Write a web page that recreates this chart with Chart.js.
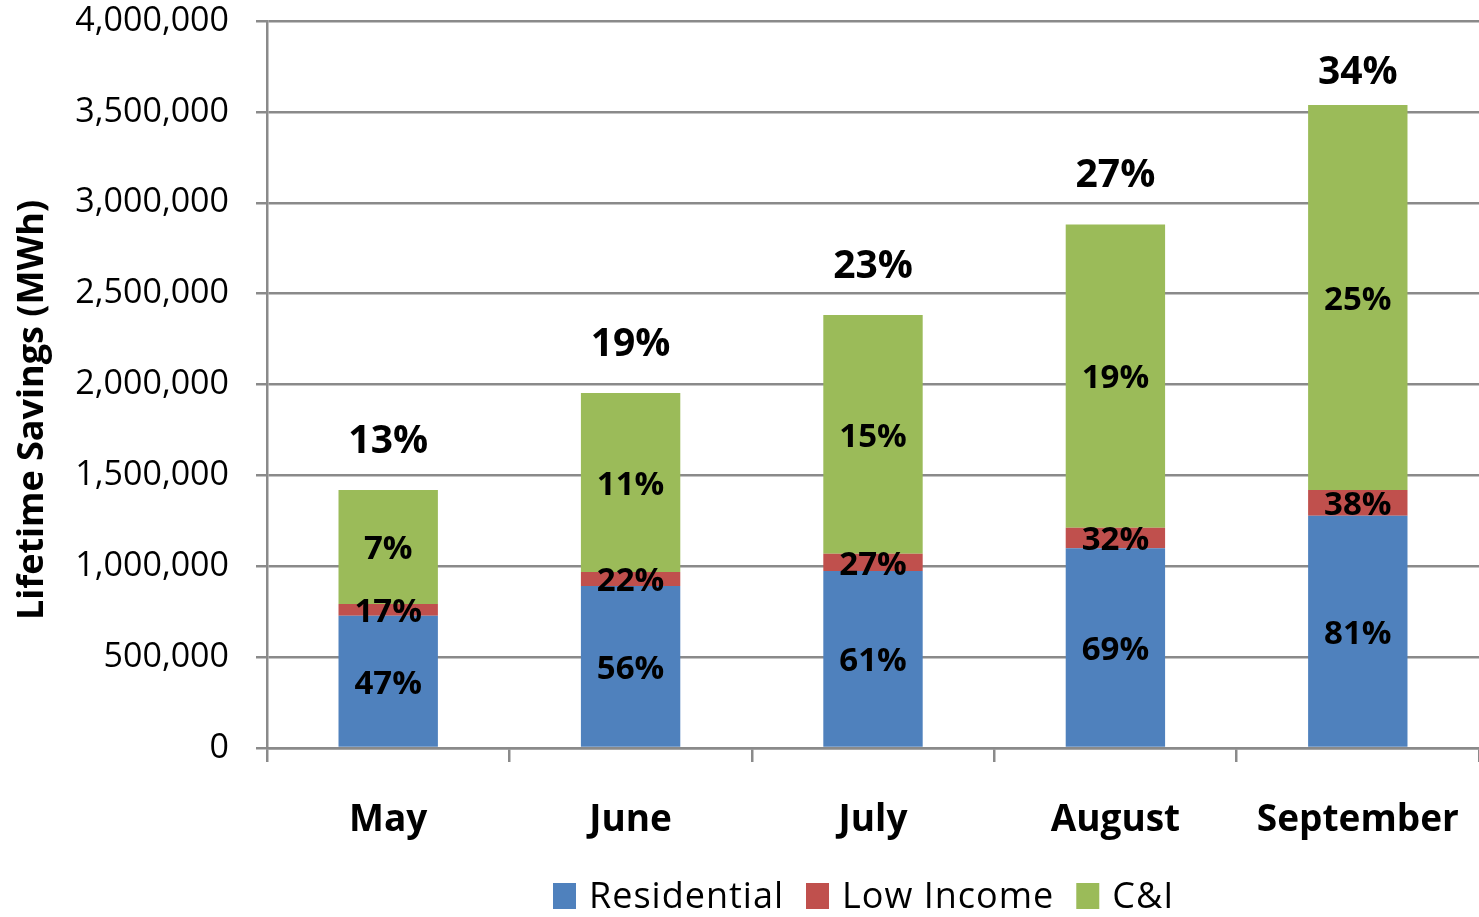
<!DOCTYPE html>
<html>
<head>
<meta charset="utf-8">
<style>
  html, body { margin: 0; padding: 0; background: #ffffff; }
  #wrap { width: 1479px; height: 917px; }
</style>
<script src="https://cdn.jsdelivr.net/npm/chart.js@4.4.1/dist/chart.umd.min.js"></script>
</head>
<body>
<div id="wrap"><canvas id="c" width="1479" height="917"></canvas></div>
<script>
const categories = ['May', 'June', 'July', 'August', 'September'];
const seriesNames = ['Residential', 'Low Income', 'C&I'];
const residential = [728000, 891000, 974000, 1099000, 1278000];
const lowIncome = [64000, 77000, 95000, 113000, 141500];
const commercialIndustrial = [627000, 985000, 1313000, 1669000, 2118500];
const residentialPct = ['47%', '56%', '61%', '69%', '81%'];
const lowIncomePct = ['17%', '22%', '27%', '32%', '38%'];
const commercialIndustrialPct = ['7%', '11%', '15%', '19%', '25%'];
const totalPct = ['13%', '19%', '23%', '27%', '34%'];
const yTickValues = [0, 500000, 1000000, 1500000, 2000000, 2500000, 3000000, 3500000, 4000000];
const yAxisTitle = 'Lifetime Savings (MWh)';

const colors = ['#4F81BD', '#C0504D', '#9BBB59'];
const gridColor = '#8a8a8a';
const FONT = '"Open Sans", "Liberation Sans", sans-serif';

const segmentLabels = [residentialPct, lowIncomePct, commercialIndustrialPct];

const labelPlugin = {
  id: 'labelPlugin',
  afterDatasetsDraw(chart) {
    const ctx = chart.ctx;
    ctx.save();
    ctx.fillStyle = '#000';
    ctx.textAlign = 'center';
    ctx.textBaseline = 'middle';
    ctx.font = 'bold 33px ' + FONT;
    chart.data.datasets.forEach((ds, di) => {
      const meta = chart.getDatasetMeta(di);
      meta.data.forEach((bar, i) => {
        const p = bar.getProps(['x', 'y', 'base'], true);
        ctx.fillText(segmentLabels[di][i], p.x, (p.y + p.base) / 2 + 3);
      });
    });
    ctx.font = 'bold 39px ' + FONT;
    const topMeta = chart.getDatasetMeta(chart.data.datasets.length - 1);
    topMeta.data.forEach((bar, i) => {
      const p = bar.getProps(['x', 'y'], true);
      const ty = Math.max(p.y - 48, 73);
      ctx.fillText(totalPct[i], p.x, ty);
    });
    ctx.restore();
  }
};

const legendPlugin = {
  id: 'legendPlugin',
  afterDraw(chart) {
    const ctx = chart.ctx;
    ctx.save();
    // y-axis title
    ctx.font = 'bold 36px ' + FONT;
    ctx.fillStyle = '#000';
    ctx.textAlign = 'center';
    ctx.textBaseline = 'middle';
    ctx.translate(33, 410);
    ctx.rotate(-Math.PI / 2);
    ctx.fillText(yAxisTitle, 0, 0);
    ctx.restore();

    ctx.save();
    ctx.font = '36px ' + FONT;
    if ('letterSpacing' in ctx) ctx.letterSpacing = '1px';
    ctx.textBaseline = 'middle';
    ctx.textAlign = 'left';
    const boxW = 23, boxH = 26, gapBox = 13, gapItem = 22;
    const items = chart.data.datasets.map(d => ({ text: d.label, color: d.backgroundColor }));
    items.forEach(it => { it.w = ctx.measureText(it.text).width; });
    let x = 553;
    const cy = 896;
    items.forEach(it => {
      ctx.fillStyle = it.color;
      ctx.fillRect(x, cy - boxH / 2, boxW, boxH);
      x += boxW + gapBox;
      ctx.fillStyle = '#000';
      ctx.fillText(it.text, x, cy + 2);
      x += it.w + gapItem;
    });
    ctx.restore();
  }
};

const ctx = document.getElementById('c').getContext('2d');
new Chart(ctx, {
  type: 'bar',
  data: {
    labels: categories,
    datasets: [
      { label: seriesNames[0], data: residential, backgroundColor: colors[0] },
      { label: seriesNames[1], data: lowIncome, backgroundColor: colors[1] },
      { label: seriesNames[2], data: commercialIndustrial, backgroundColor: colors[2] }
    ]
  },
  options: {
    responsive: false,
    animation: false,
    devicePixelRatio: 1,
    layout: { padding: { top: 0, right: 0, bottom: 0, left: 0 } },
    datasets: { bar: { categoryPercentage: 1.0, barPercentage: 0.41, borderWidth: 0 } },
    plugins: {
      legend: { display: false },
      tooltip: { enabled: false },
      title: { display: false }
    },
    scales: {
      x: {
        stacked: true,
        grid: { offset: true, drawOnChartArea: false, drawTicks: true, tickLength: 14, color: gridColor, lineWidth: 2.5 },
        border: { display: true, color: gridColor, width: 2.5 },
        ticks: { color: '#000', font: { family: FONT, size: 37, weight: 'bold' }, padding: 36, maxRotation: 0 },
        afterFit: s => { s.height = 169; s.paddingLeft = 0; s.paddingRight = 0; }
      },
      y: {
        stacked: true,
        min: 0,
        max: 4000000,
        afterBuildTicks: s => { s.ticks = yTickValues.map(v => ({ value: v })); },
        ticks: {
          color: '#000',
          font: { family: FONT, size: 34, lineHeight: 1.2 },
          padding: 27,
          callback: v => Number(v).toLocaleString('en-US')
        },
        grid: { color: gridColor, lineWidth: 2.5, tickLength: 11, drawTicks: true },
        border: { display: true, color: gridColor, width: 2.5 },
        title: { display: false },
        afterFit: s => { s.width = 267; s.paddingTop = 21; s.paddingBottom = 0; }
      }
    }
  },
  plugins: [labelPlugin, legendPlugin]
});
</script>
</body>
</html>
